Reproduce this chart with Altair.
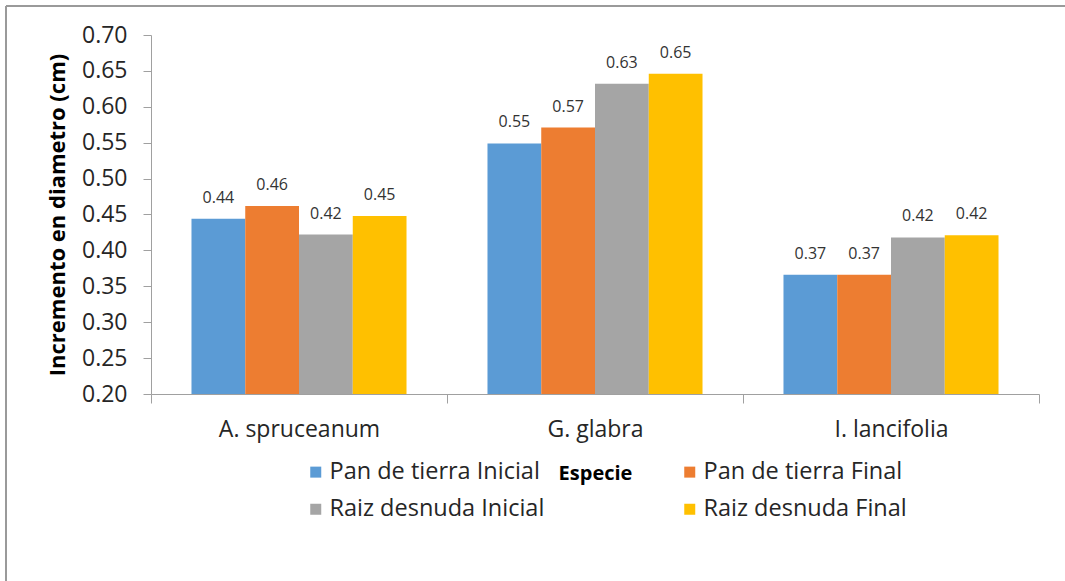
import altair as alt
import pandas as pd

# Diameter increment (cm) by species and planting treatment
especies = ["A. spruceanum", "G. glabra", "I. lancifolia"]
tratamientos = [
    "Pan de tierra Inicial",
    "Pan de tierra Final",
    "Raiz desnuda Inicial",
    "Raiz desnuda Final",
]
pan_tierra_inicial = [0.444, 0.549, 0.366]
pan_tierra_final = [0.462, 0.571, 0.366]
raiz_desnuda_inicial = [0.422, 0.632, 0.418]
raiz_desnuda_final = [0.448, 0.646, 0.421]
colores = ["#5B9BD5", "#ED7D31", "#A5A5A5", "#FFC000"]

series = [pan_tierra_inicial, pan_tierra_final, raiz_desnuda_inicial, raiz_desnuda_final]
rows = []
for t, vals in zip(tratamientos, series):
    for e, v in zip(especies, vals):
        rows.append({"Especie": e, "Tratamiento": t, "Incremento": v})
df = pd.DataFrame(rows)

FONT = "Open Sans"
W, H = 888, 359
LEFT, TOP = 151, 35

base = alt.Chart(df).encode(
    x=alt.X(
        "Especie:N",
        sort=especies,
        scale=alt.Scale(paddingInner=0, paddingOuter=0),
        axis=alt.Axis(
            title="Especie",
            titleFont=FONT,
            titleFontSize=20,
            titleFontWeight="bold",
            titleColor="#000000",
            titleY=85,
            titleBaseline="alphabetic",
            labelAngle=0,
            labelFont=FONT,
            labelFontSize=23,
            labelColor="#262626",
            labelPadding=15,
            tickBand="extent",
            tickSize=9,
            tickColor="#a0a0a0",
            domainColor="#a0a0a0",
            grid=False,
        ),
    ),
    xOffset=alt.XOffset(
        "Tratamiento:N",
        sort=tratamientos,
        scale=alt.Scale(domain=tratamientos, paddingInner=0, paddingOuter=0.753),
    ),
    y=alt.Y(
        "Incremento:Q",
        scale=alt.Scale(domain=[0.2, 0.7], zero=False, nice=False),
        axis=alt.Axis(
            title="Incremento en diametro (cm)",
            titleFont=FONT,
            titleFontSize=22,
            titleFontWeight="bold",
            titleColor="#000000",
            titleAngle=270,
            titleX=-94,
            titleY=H / 2,
            titleAlign="center",
            titleBaseline="middle",
            values=[0.2, 0.25, 0.3, 0.35, 0.4, 0.45, 0.5, 0.55, 0.6, 0.65, 0.7],
            format=".2f",
            labelFont=FONT,
            labelFontSize=23,
            labelColor="#262626",
            labelPadding=16,
            tickSize=8,
            tickColor="#a0a0a0",
            domainColor="#a0a0a0",
            grid=False,
        ),
    ),
)

bars = base.mark_bar(clip=True).encode(
    color=alt.Color(
        "Tratamiento:N",
        sort=tratamientos,
        scale=alt.Scale(domain=tratamientos, range=colores),
        legend=alt.Legend(
            title=None,
            orient="none",
            direction="horizontal",
            legendX=153,
            legendY=425,
            padding=0,
            columns=2,
            columnPadding=133,
            rowPadding=12.5,
            symbolType="square",
            symbolSize=121,
            symbolStrokeWidth=0,
            labelFont=FONT,
            labelFontSize=23.5,
            labelColor="#262626",
            labelOffset=2,
            labelLimit=400,
        ),
    )
)

labels = base.mark_text(
    font=FONT, fontSize=16, color="#333333", baseline="alphabetic", dy=-16
).encode(text=alt.Text("Incremento:Q", format=".2f"))

# Outer frame around the chart
frame_df = pd.DataFrame({"k": [0]})
frame_top = alt.Chart(frame_df).mark_rule(color="#9a9a9a", strokeWidth=2).encode(
    x=alt.value(6 - LEFT), x2=alt.value(1065 - LEFT), y=alt.value(6 - TOP)
)
frame_left = alt.Chart(frame_df).mark_rule(color="#9a9a9a", strokeWidth=2).encode(
    x=alt.value(6 - LEFT), y=alt.value(6 - TOP), y2=alt.value(581 - TOP)
)

chart = (
    alt.layer(bars, labels, frame_top, frame_left)
    .properties(
        width=W,
        height=H,
        autosize=alt.AutoSizeParams(type="none"),
        padding={"left": LEFT, "top": TOP, "right": 1065 - LEFT - W, "bottom": 581 - TOP - H},
        background="white",
    )
    .configure_view(stroke=None)
)

chart.save("out.html", embed_options={"renderer": "svg", "actions": False})
